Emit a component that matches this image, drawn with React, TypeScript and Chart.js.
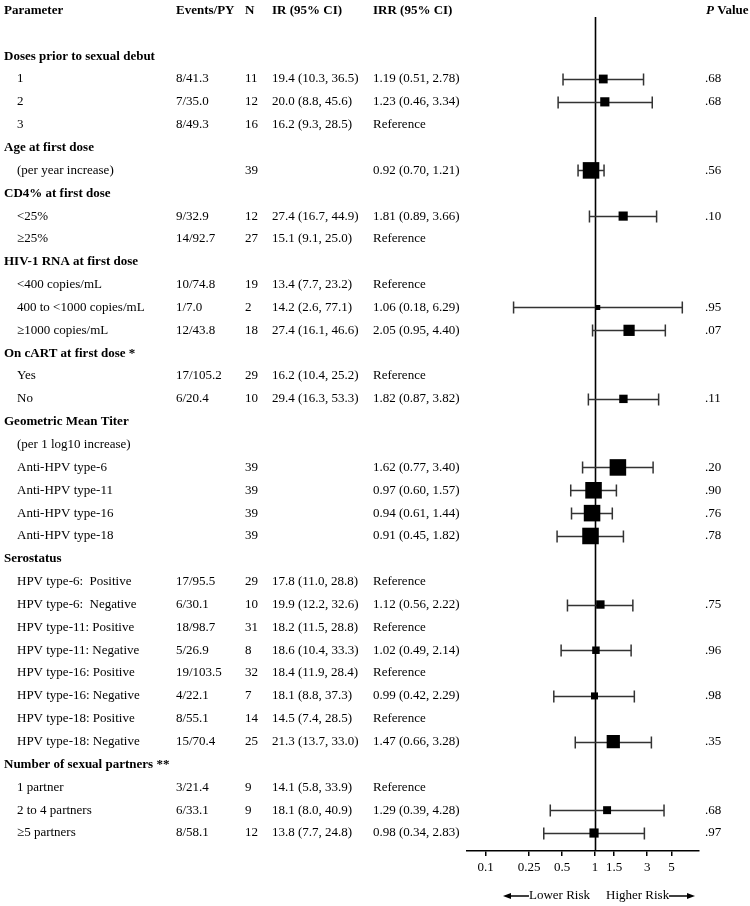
import React, { useEffect, useRef } from "react";
import { Chart, registerables } from "chart.js";

Chart.register(...registerables);

const FONT = "'Liberation Serif', 'Times New Roman', Times, serif";

// Column headings
const headerLabels = ["Parameter", "Events/PY", "N", "IR (95% CI)", "IRR (95% CI)"];
const pHeaderItalic = "P";
const pHeaderRest = " Value";

// Row labels (table rows start below the header and a blank row)
const parameters = [
  "Doses prior to sexual debut", "1", "2", "3",
  "Age at first dose", "(per year increase)",
  "CD4% at first dose", "<25%", "≥25%",
  "HIV-1 RNA at first dose", "<400 copies/mL", "400 to <1000 copies/mL", "≥1000 copies/mL",
  "On cART at first dose *", "Yes", "No",
  "Geometric Mean Titer", "(per 1 log10 increase)",
  "Anti-HPV type-6", "Anti-HPV type-11", "Anti-HPV type-16", "Anti-HPV type-18",
  "Serostatus",
  "HPV type-6:  Positive", "HPV type-6:  Negative",
  "HPV type-11: Positive", "HPV type-11: Negative",
  "HPV type-16: Positive", "HPV type-16: Negative",
  "HPV type-18: Positive", "HPV type-18: Negative",
  "Number of sexual partners **", "1 partner", "2 to 4 partners", "≥5 partners",
];
const groupRows = [0, 4, 6, 9, 13, 16, 22, 31];

const eventsPY = [
  null, "8/41.3", "7/35.0", "8/49.3",
  null, null,
  null, "9/32.9", "14/92.7",
  null, "10/74.8", "1/7.0", "12/43.8",
  null, "17/105.2", "6/20.4",
  null, null,
  null, null, null, null,
  null,
  "17/95.5", "6/30.1", "18/98.7", "5/26.9", "19/103.5", "4/22.1", "8/55.1", "15/70.4",
  null, "3/21.4", "6/33.1", "8/58.1",
];

const nValues = [
  null, 11, 12, 16,
  null, 39,
  null, 12, 27,
  null, 19, 2, 18,
  null, 29, 10,
  null, null,
  39, 39, 39, 39,
  null,
  29, 10, 31, 8, 32, 7, 14, 25,
  null, 9, 9, 12,
];

const ir = [
  null, 19.4, 20.0, 16.2, null, null, null, 27.4, 15.1, null, 13.4, 14.2, 27.4,
  null, 16.2, 29.4, null, null, null, null, null, null, null,
  17.8, 19.9, 18.2, 18.6, 18.4, 18.1, 14.5, 21.3, null, 14.1, 18.1, 13.8,
];
const irLow = [
  null, 10.3, 8.8, 9.3, null, null, null, 16.7, 9.1, null, 7.7, 2.6, 16.1,
  null, 10.4, 16.3, null, null, null, null, null, null, null,
  11.0, 12.2, 11.5, 10.4, 11.9, 8.8, 7.4, 13.7, null, 5.8, 8.0, 7.7,
];
const irHigh = [
  null, 36.5, 45.6, 28.5, null, null, null, 44.9, 25.0, null, 23.2, 77.1, 46.6,
  null, 25.2, 53.3, null, null, null, null, null, null, null,
  28.8, 32.6, 28.8, 33.3, 28.4, 37.3, 28.5, 33.0, null, 33.9, 40.9, 24.8,
];

const irr = [
  null, 1.19, 1.23, null, null, 0.92, null, 1.81, null, null, null, 1.06, 2.05,
  null, null, 1.82, null, null, 1.62, 0.97, 0.94, 0.91, null,
  null, 1.12, null, 1.02, null, 0.99, null, 1.47, null, null, 1.29, 0.98,
];
const irrLow = [
  null, 0.51, 0.46, null, null, 0.70, null, 0.89, null, null, null, 0.18, 0.95,
  null, null, 0.87, null, null, 0.77, 0.60, 0.61, 0.45, null,
  null, 0.56, null, 0.49, null, 0.42, null, 0.66, null, null, 0.39, 0.34,
];
const irrHigh = [
  null, 2.78, 3.34, null, null, 1.21, null, 3.66, null, null, null, 6.29, 4.40,
  null, null, 3.82, null, null, 3.40, 1.57, 1.44, 1.82, null,
  null, 2.22, null, 2.14, null, 2.29, null, 3.28, null, null, 4.28, 2.83,
];
const referenceRows = [3, 8, 10, 14, 23, 25, 27, 29, 32];

const pValues = [
  null, ".68", ".68", null, null, ".56", null, ".10", null, null, null, ".95", ".07",
  null, null, ".11", null, null, ".20", ".90", ".76", ".78", null,
  null, ".75", null, ".96", null, ".98", null, ".35", null, null, ".68", ".97",
];

const xTicks = [0.1, 0.25, 0.5, 1, 1.5, 3, 5];
const xTickLabels = ["0.1", "0.25", "0.5", "1", "1.5", "3", "5"];
const lowerRiskLabel = "Lower Risk";
const higherRiskLabel = "Higher Risk";

const ROW_OFFSET = 2; // header row + blank row

export default function App() {
  const canvasRef = useRef<HTMLCanvasElement | null>(null);

  useEffect(() => {
    const canvas = canvasRef.current;
    if (!canvas) return;

    const points: { x: number; y: number }[] = [];
    const radii: number[] = [];
    irr.forEach((v, i) => {
      if (v != null) {
        points.push({ x: v, y: i + ROW_OFFSET });
        const n = nValues[i] ?? 1;
        const side = Math.max(5, 2.65 * Math.sqrt(n));
        radii.push(side / Math.SQRT2);
      }
    });

    const f1 = (v: number) => v.toFixed(1);
    const f2 = (v: number) => v.toFixed(2);

    const forestPlugin = {
      id: "forest",
      beforeDatasetsDraw(chart: any) {
        const { ctx, chartArea } = chart;
        const xs = chart.scales.x;
        const ys = chart.scales.y;
        ctx.save();
        // reference line at IRR = 1
        const p1 = Math.round(xs.getPixelForValue(1)) + 0.5;
        ctx.strokeStyle = "#000";
        ctx.lineWidth = 1.6;
        ctx.beginPath();
        ctx.moveTo(p1, chartArea.top);
        ctx.lineTo(p1, chartArea.bottom);
        ctx.stroke();
        // error bars
        ctx.strokeStyle = "#333";
        ctx.lineWidth = 1.5;
        irr.forEach((v, i) => {
          if (v == null) return;
          const lo = irrLow[i] as number;
          const hi = irrHigh[i] as number;
          const py = Math.round(ys.getPixelForValue(i + ROW_OFFSET)) + 0.5;
          const x0 = xs.getPixelForValue(lo);
          const x1 = xs.getPixelForValue(hi);
          ctx.beginPath();
          ctx.moveTo(x0, py);
          ctx.lineTo(x1, py);
          ctx.moveTo(x0, py - 6);
          ctx.lineTo(x0, py + 6);
          ctx.moveTo(x1, py - 6);
          ctx.lineTo(x1, py + 6);
          ctx.stroke();
        });
        ctx.restore();
      },
      afterDraw(chart: any) {
        const { ctx } = chart;
        const xs = chart.scales.x;
        const ys = chart.scales.y;
        const bold = `bold 13px ${FONT}`;
        const reg = `13px ${FONT}`;
        const colX = [4, 176, 245, 272, 373];
        const pX = 706;
        ctx.save();
        ctx.fillStyle = "#000";
        ctx.textBaseline = "middle";
        ctx.textAlign = "left";

        // header
        const hy = ys.getPixelForValue(0);
        ctx.font = bold;
        headerLabels.forEach((t, c) => ctx.fillText(t, colX[c], hy));
        ctx.font = `italic bold 13px ${FONT}`;
        ctx.fillText(pHeaderItalic, pX, hy);
        const w = ctx.measureText(pHeaderItalic).width;
        ctx.font = bold;
        ctx.fillText(pHeaderRest, pX + w, hy);

        // rows
        parameters.forEach((label, i) => {
          const py = ys.getPixelForValue(i + ROW_OFFSET);
          if (groupRows.includes(i)) {
            ctx.font = bold;
            ctx.fillText(label, colX[0], py);
            return;
          }
          ctx.font = reg;
          ctx.fillText(label, 17, py);
          const ev = eventsPY[i];
          if (ev) ctx.fillText(ev, colX[1], py);
          const n = nValues[i];
          if (n != null) ctx.fillText(String(n), colX[2], py);
          const r = ir[i];
          if (r != null) {
            ctx.fillText(`${f1(r)} (${f1(irLow[i] as number)}, ${f1(irHigh[i] as number)})`, colX[3], py);
          }
          if (referenceRows.includes(i)) {
            ctx.fillText("Reference", colX[4], py);
          } else if (irr[i] != null) {
            ctx.fillText(`${f2(irr[i] as number)} (${f2(irrLow[i] as number)}, ${f2(irrHigh[i] as number)})`, colX[4], py);
          }
          const p = pValues[i];
          if (p) ctx.fillText(p, 705, py);
        });

        // risk direction labels
        const c1 = xs.getPixelForValue(1);
        const ry = 896;
        ctx.font = reg;
        ctx.textAlign = "right";
        ctx.fillText(lowerRiskLabel, c1 - 5, ry);
        ctx.textAlign = "left";
        ctx.fillText(higherRiskLabel, c1 + 11, ry);
        ctx.strokeStyle = "#000";
        ctx.lineWidth = 1.5;
        // left arrow
        ctx.beginPath();
        ctx.moveTo(c1 - 66, ry);
        ctx.lineTo(c1 - 86, ry);
        ctx.stroke();
        ctx.beginPath();
        ctx.moveTo(c1 - 92, ry);
        ctx.lineTo(c1 - 84, ry - 3);
        ctx.lineTo(c1 - 84, ry + 3);
        ctx.closePath();
        ctx.fill();
        // right arrow
        ctx.beginPath();
        ctx.moveTo(c1 + 74, ry);
        ctx.lineTo(c1 + 94, ry);
        ctx.stroke();
        ctx.beginPath();
        ctx.moveTo(c1 + 100, ry);
        ctx.lineTo(c1 + 92, ry - 3);
        ctx.lineTo(c1 + 92, ry + 3);
        ctx.closePath();
        ctx.fill();
        ctx.restore();
      },
    };

    const chart = new Chart(canvas, {
      type: "scatter",
      data: {
        datasets: [
          {
            data: points,
            pointStyle: "rect",
            pointRadius: radii,
            pointHoverRadius: radii,
            backgroundColor: "#000",
            borderColor: "#000",
            borderWidth: 0,
          },
        ],
      },
      options: {
        responsive: false,
        animation: false,
        events: [],
        layout: { padding: { left: 467, right: 51, top: 17, bottom: 0 } },
        plugins: {
          legend: { display: false },
          tooltip: { enabled: false },
        },
        scales: {
          x: {
            type: "logarithmic",
            min: 0.0675,
            max: 8.94,
            afterBuildTicks: (scale: any) => {
              scale.ticks = xTicks.map((v) => ({ value: v }));
            },
            afterFit: (scale: any) => {
              scale.height = 55;
            },
            ticks: {
              autoSkip: false,
              maxRotation: 0,
              minRotation: 0,
              padding: 4,
              color: "#000",
              font: { family: FONT, size: 13 },
              callback: (value: any) => {
                const idx = xTicks.indexOf(Number(value));
                return idx >= 0 ? xTickLabels[idx] : "";
              },
            },
            grid: {
              display: true,
              drawOnChartArea: false,
              drawTicks: true,
              tickLength: 5,
              color: "#000",
              lineWidth: 1.5,
            },
            border: { display: true, color: "#000", width: 1.6 },
          },
          y: {
            type: "linear",
            display: false,
            reverse: true,
            min: 0.2867,
            max: 36.787,
          },
        },
      },
      plugins: [forestPlugin],
    });

    return () => chart.destroy();
  }, []);

  return (
    <div style={{ position: "absolute", left: 0, top: 0, width: 750, height: 906, background: "#fff" }}>
      <canvas ref={canvasRef} width={750} height={906} style={{ display: "block" }} />
    </div>
  );
}
